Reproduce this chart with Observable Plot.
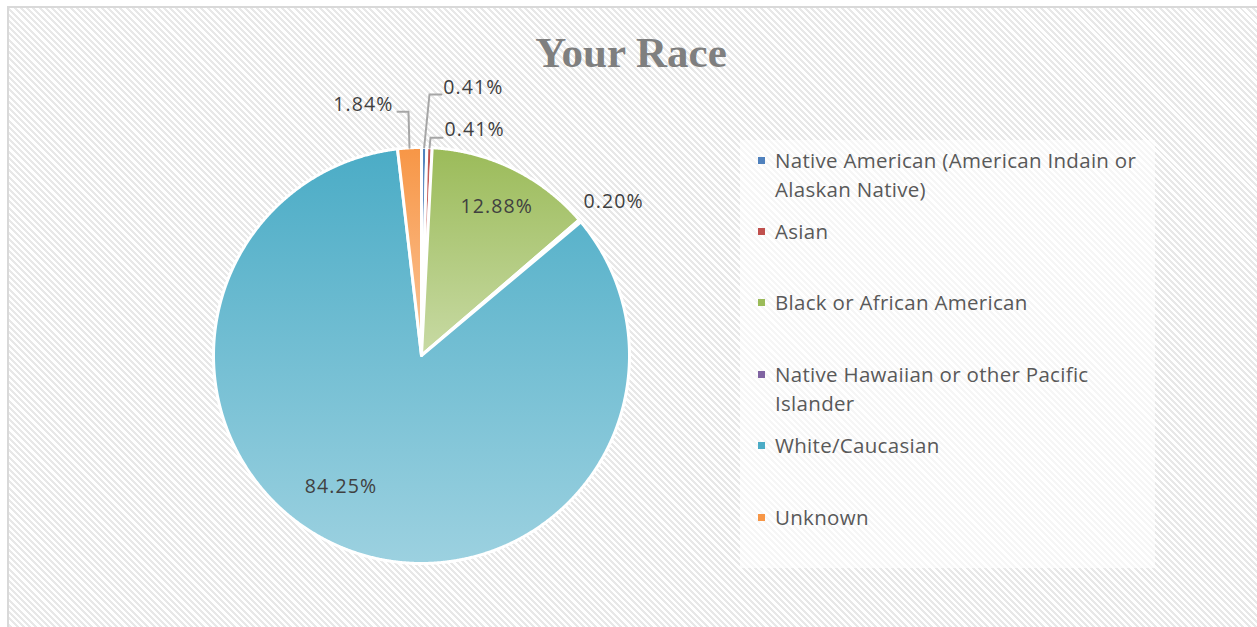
<!DOCTYPE html>
<html>
<head>
<meta charset="utf-8">
<script src="https://cdn.jsdelivr.net/npm/d3@7"></script>
<script src="https://cdn.jsdelivr.net/npm/@observablehq/plot@0.6"></script>
<style>
  html, body { margin: 0; padding: 0; background: #fff; }
  #wrap { position: relative; width: 1257px; height: 627px; overflow: hidden; background: #fff; }
  #area { position: absolute; left: 7px; top: 6px; width: 1270px; height: 640px;
          border-top: 2px solid #d9d9d9; border-left: 2px solid #d9d9d9;
          background: repeating-linear-gradient(45deg, #ffffff 0px, #ffffff 2.3px, #e8e8e8 2.3px, #e8e8e8 4.4px); }
  #title { position: absolute; left: 431px; width: 400px; top: 28px; text-align: center;
           font-family: "Liberation Serif", serif; font-weight: bold; font-size: 43px; color: #7f7f7f; }
  #legend { position: absolute; left: 740px; top: 140px; width: 415px; height: 428px;
            background: rgba(255,255,255,0.6); }
  .item { position: absolute; left: 0; width: 415px; height: 71.4px; }
  .swatch { position: absolute; left: 18px; top: 16.5px; width: 7px; height: 7px; }
  .ltext { position: absolute; left: 35px; top: 5.5px; width: 372px;
           font-family: "Open Sans", sans-serif; font-size: 20.5px; letter-spacing: 0.3px;
           line-height: 29px; color: #595959; }
  #chart { position: absolute; left: 0; top: 0; }
</style>
</head>
<body>
<div id="wrap">
  <div id="area"></div>
  <div id="legend"></div>
  <div id="chart"></div>
  <div id="title">Your Race</div>
</div>
<script>
// ---- data ----
const categories = [
  "Native American (American Indain or Alaskan Native)",
  "Asian",
  "Black or African American",
  "Native Hawaiian or other Pacific Islander",
  "White/Caucasian",
  "Unknown"
];
const shares = [0.41, 0.41, 12.88, 0.20, 84.25, 1.84];

// ---- styles / layout (not data) ----
const palette = ["#4F81BD", "#C0504D", "#9BBB59", "#8064A2", "#4BACC6", "#F79646"];
const W = 1257, H = 627;
const frame = {left: 213, right: 629, top: 147, bottom: 563};
const R = (frame.right - frame.left) / 2; // px per unit
// label placement: inside labels at radius 0.8, outside at 1, plus pixel nudges
const labelLayout = [
  {r: 1,   anchor: "start",  dx: 19,  dy: -60, leader: [[5.3, -53], [17.3, -53]]},
  {r: 1,   anchor: "start",  dx: 15,  dy: -18, leader: [[1, -10], [13, -10]]},
  {r: 0.8, anchor: "middle", dx: 2,   dy: 1,   leader: null},
  {r: 1,   anchor: "start",  dx: 3.5, dy: -19, leader: null},
  {r: 0.8, anchor: "middle", dx: -19, dy: -23, leader: null},
  {r: 1,   anchor: "end",    dx: -16, dy: -43, leader: [[-1, -36], [-12, -36]]}
];

const rows = categories.map((c, i) => ({category: c, share: shares[i], i}));
const arcs = d3.pie().sort(null).value(d => d.share)(rows);
const fmt = v => d3.format(".2f")(v) + "%";

// slice outlines
const slices = arcs.map((a, i) => {
  const span = a.endAngle - a.startAngle;
  const n = Math.max(2, Math.ceil(span / (Math.PI / 720)));
  const pts = [{x: 0, y: 0}];
  for (let k = 0; k <= n; k++) {
    const t = a.startAngle + span * k / n;
    pts.push({x: Math.sin(t), y: Math.cos(t)});
  }
  return pts;
});

const marks = [];
slices.forEach((pts, i) => {
  marks.push(Plot.line(pts, {x: "x", y: "y", curve: "linear-closed",
    fill: `url(#grad${i})`, stroke: "white", strokeWidth: 3, strokeLinejoin: "round"}));
});

arcs.forEach((a, i) => {
  const L = labelLayout[i];
  const mid = (a.startAngle + a.endAngle) / 2;
  const ax = L.r * Math.sin(mid), ay = L.r * Math.cos(mid);
  if (L.leader) {
    const ox = Math.sin(mid), oy = Math.cos(mid);
    const path = [{x: ox, y: oy}].concat(L.leader.map(([px, py]) => ({x: ox + px / R, y: oy - py / R})));
    marks.push(Plot.line(path, {x: "x", y: "y", stroke: "#a6a6a6", strokeWidth: 2}));
  }
  marks.push(Plot.text([a.data], {
    x: () => ax, y: () => ay, text: d => fmt(d.share),
    textAnchor: L.anchor, dx: L.dx, dy: L.dy,
    fontFamily: "Open Sans", fontSize: 19.5, fill: "#404040"
  }));
});

const plot = Plot.plot({
  width: W, height: H,
  marginLeft: frame.left, marginRight: W - frame.right,
  marginTop: frame.top, marginBottom: H - frame.bottom,
  x: {domain: [-1, 1], axis: null},
  y: {domain: [-1, 1], axis: null},
  style: {background: "transparent", overflow: "visible"},
  marks
});

const defs = d3.select(plot).insert("defs", ":first-child");
palette.forEach((c, i) => {
  const g = defs.append("linearGradient").attr("id", `grad${i}`)
    .attr("x1", 0).attr("y1", 0).attr("x2", 0).attr("y2", 1);
  g.append("stop").attr("offset", "0%").attr("stop-color", c);
  g.append("stop").attr("offset", "100%").attr("stop-color", d3.interpolateRgb(c, "#fff")(0.45));
});
d3.select(plot).selectAll("text").style("letter-spacing", "1.1px");
document.getElementById("chart").appendChild(plot);

// legend
const legend = d3.select("#legend");
categories.forEach((c, i) => {
  const it = legend.append("div").attr("class", "item").style("top", (i * 71.4) + "px");
  it.append("div").attr("class", "swatch").style("background", palette[i]);
  it.append("div").attr("class", "ltext").text(c);
});
</script>
</body>
</html>
